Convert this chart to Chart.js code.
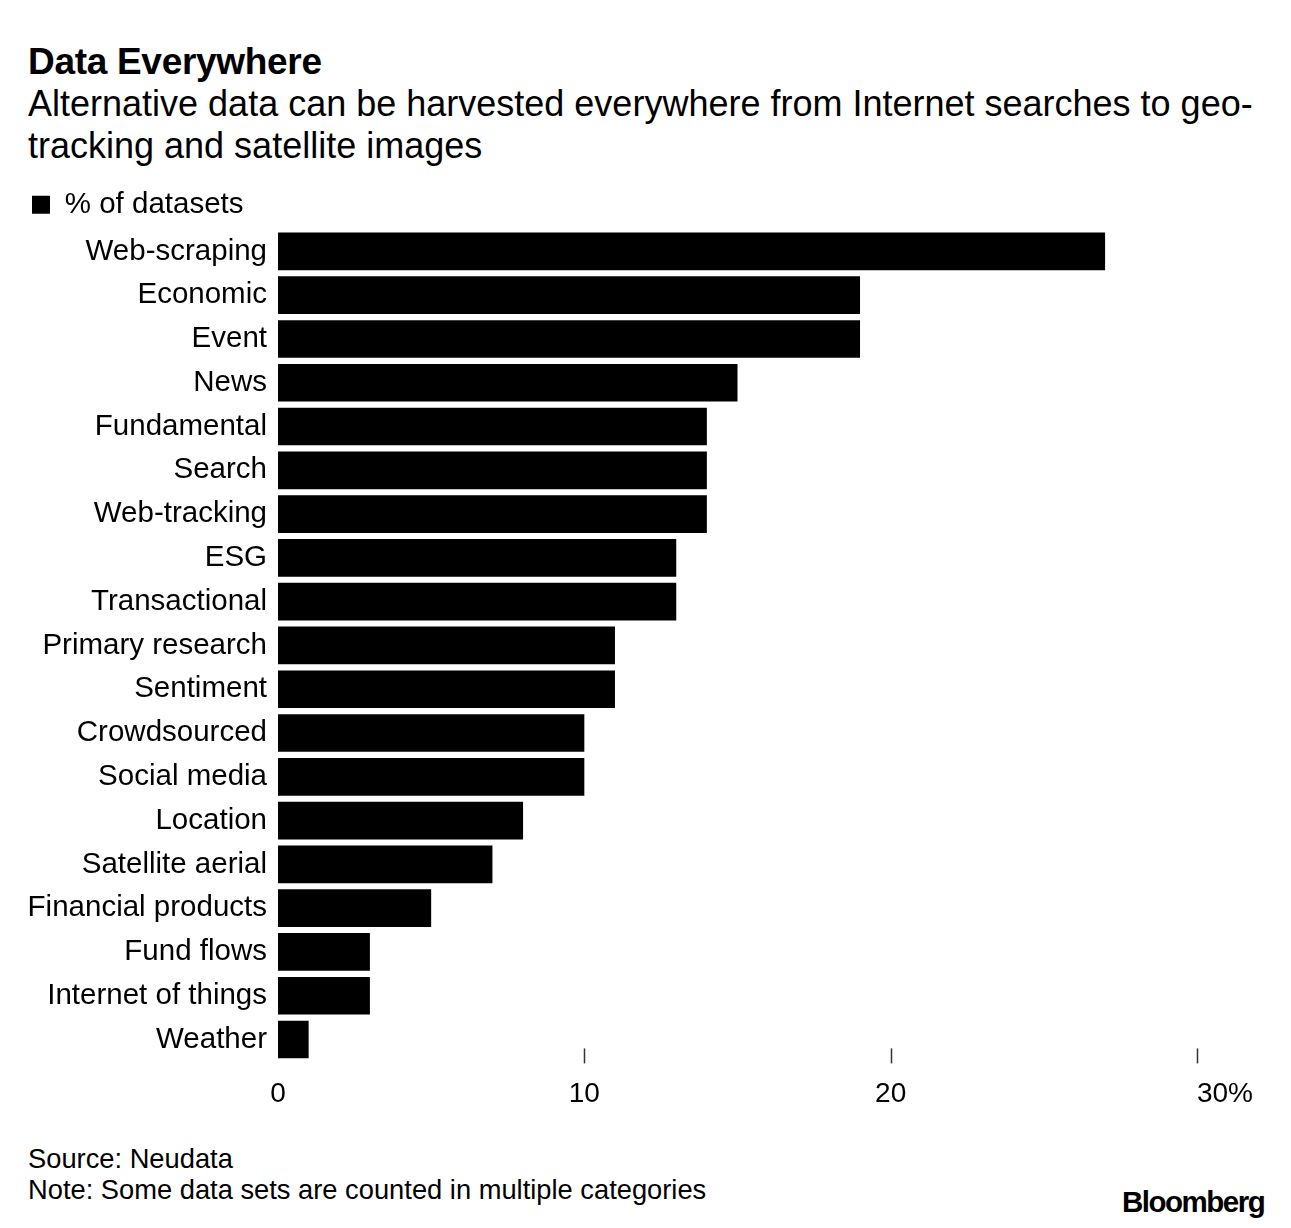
<!DOCTYPE html>
<html>
<head>
<meta charset="utf-8">
<script src="https://cdn.jsdelivr.net/npm/chart.js@4.4.0/dist/chart.umd.min.js"></script>
<style>
  html, body { margin: 0; padding: 0; background: #fff; }
  body { width: 1291px; height: 1228px; position: relative; overflow: hidden;
         font-family: "Liberation Sans", Arial, sans-serif; color: #000; }
  .title { position: absolute; left: 28px; top: 41px; font-size: 37px; font-weight: bold; letter-spacing: -0.3px; }
  .subtitle { position: absolute; left: 28px; top: 83px; font-size: 36px; line-height: 42px; white-space: nowrap; }
  .wrap { position: absolute; left: 0; top: 180px; width: 1291px; height: 939px; }
  .foot { position: absolute; left: 28px; font-size: 27.3px; }
  .logo { position: absolute; left: 1122px; top: 1185px; font-size: 29.5px; font-weight: bold; letter-spacing: -1.5px; }
</style>
</head>
<body>
<div class="title">Data Everywhere</div>
<div class="subtitle">Alternative data can be harvested everywhere from Internet searches to geo-<br>tracking and satellite images</div>
<div class="wrap"><canvas id="chart"></canvas></div>
<div class="foot" style="top:1143px">Source: Neudata</div>
<div class="foot" style="top:1174px">Note: Some data sets are counted in multiple categories</div>
<div class="logo">Bloomberg</div>
<script>
var categories = ['Web-scraping', 'Economic', 'Event', 'News', 'Fundamental', 'Search',
  'Web-tracking', 'ESG', 'Transactional', 'Primary research', 'Sentiment', 'Crowdsourced',
  'Social media', 'Location', 'Satellite aerial', 'Financial products', 'Fund flows',
  'Internet of things', 'Weather'];
var pctDatasets = [27, 19, 19, 15, 14, 14, 14, 13, 13, 11, 11, 10, 10, 8, 7, 5, 3, 3, 1];
var tickValues = [0, 10, 20, 30];
var markedTicks = [10, 20, 30];

var FONT = '"Liberation Sans", Arial, sans-serif';

// small vertical tick marks above the x labels
var tickMarks = {
  id: 'tickMarks',
  afterDraw: function(chart) {
    var ctx = chart.ctx, x = chart.scales.x, bottom = chart.chartArea.bottom;
    ctx.save();
    ctx.strokeStyle = '#333';
    ctx.lineWidth = 1.5;
    markedTicks.forEach(function(v) {
      var px = Math.round(x.getPixelForValue(v)) + 0.5;
      ctx.beginPath();
      ctx.moveTo(px, bottom - 13);
      ctx.lineTo(px, bottom + 2);
      ctx.stroke();
    });
    ctx.restore();
  }
};

new Chart(document.getElementById('chart'), {
  type: 'bar',
  data: {
    labels: categories,
    datasets: [{
      label: '% of datasets',
      data: pctDatasets,
      backgroundColor: '#000',
      borderWidth: 0,
      barPercentage: 0.86,
      categoryPercentage: 1
    }]
  },
  options: {
    indexAxis: 'y',
    responsive: true,
    maintainAspectRatio: false,
    animation: false,
    layout: { padding: { left: 22, right: 94, top: 0, bottom: 0 } },
    plugins: {
      legend: {
        align: 'start',
        labels: {
          boxWidth: 18, boxHeight: 18, padding: 10,
          color: '#000',
          font: { family: FONT, size: 29.5 }
        }
      },
      tooltip: { enabled: false }
    },
    scales: {
      y: {
        grid: { display: false },
        border: { display: false },
        ticks: { color: '#000', padding: 3, font: { family: FONT, size: 29.5 } },
        afterFit: function(s) { s.width = 256; }
      },
      x: {
        min: 0, max: 30,
        grid: { display: false },
        border: { display: false },
        afterBuildTicks: function(s) {
          s.ticks = tickValues.map(function(v) { return { value: v }; });
        },
        ticks: {
          color: '#000', padding: 8, maxRotation: 0,
          font: { family: FONT, size: 28 },
          // the "%" hangs to the right of the last tick
          callback: function(v) { return v === 30 ? '\u2002\u2002\u2002\u2002' + v + '%' : String(v); }
        }
      }
    }
  },
  plugins: [tickMarks]
});
</script>
</body>
</html>
